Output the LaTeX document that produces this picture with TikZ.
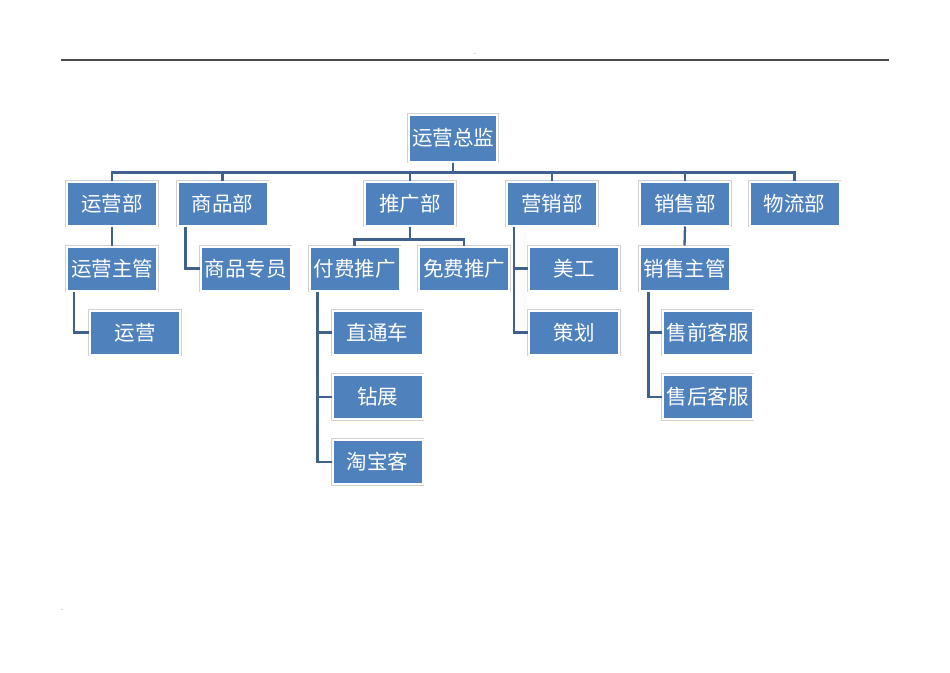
\documentclass[tikz,border=0pt]{standalone}
\usepackage{fontspec}
\newfontfamily\cjk{Noto Sans CJK SC}
\usepackage{xcolor}
\definecolor{boxblue}{RGB}{79,129,189}
\definecolor{linkblue}{RGB}{64,96,142}
\usetikzlibrary{positioning}

\begin{document}
\begin{tikzpicture}
[
    x=1pt,y=-1pt,
    mybox/.style={rectangle,minimum width=90pt,minimum height=44pt,inner sep=0pt,fill=boxblue,draw=white,line width=2pt,
        preaction={draw=black!18,line width=3.6pt},text=white,font=\cjk\fontsize{20.5}{24}\selectfont},
    chief/.style={mybox,minimum width=88pt,minimum height=47pt},
    link/.style={draw=linkblue,line width=2.3pt},
    dot/.style={inner sep=0pt,font=\fontsize{7}{7}\selectfont}
]
\useasboundingbox (0,0) rectangle (950,672);

% Kopfzeile
\draw[gray!60!black,line width=1.2pt] (61,60) -- (889,60);
\node[dot] (dottop) at (475,54) {.};
\node[dot] (dotbottom) at (62,610) {.};

\node (zj) at (453,138) [chief] {运营总监};

\node (yyb) at (112,203.5) [mybox] {运营部};
\node (spb) at (222.5,203.5) [mybox] {商品部};
\node (tgb) at (410,203.5) [mybox] {推广部};
\node (yxb) at (552,203.5) [mybox] {营销部};
\node (xsb) at (685,203.5) [mybox] {销售部};
\node (wlb) at (794.5,203.5) [mybox] {物流部};

\node (yyzg) at (112,268.5) [mybox] {运营主管};
\node (spzy) at (245.5,268.5) [mybox] {商品专员};
\node (fftg) at (354.5,268.5) [mybox] {付费推广};
\node (mftg) at (464,268.5) [mybox] {免费推广};
\node (mg) at (574,268.5) [mybox] {美工};
\node (xszg) at (684.5,268.5) [mybox] {销售主管};

\node (yy) at (135,332.5) [mybox] {运营};
\node (ztc) at (377.5,332.5) [mybox] {直通车};
\node (ch) at (574,332.5) [mybox] {策划};
\node (sqkf) at (707.5,332.5) [mybox] {售前客服};

\node (zz) at (377.5,397) [mybox] {钻展};
\node (shkf) at (707.5,397) [mybox] {售后客服};

\node (tbk) at (377.5,462) [mybox] {淘宝客};

% Verbindungen
\foreach \d in {yyb,spb,tgb,yxb,xsb,wlb}
    \draw[link] (zj.south) -- ++(0,10) -| (\d.north);

\draw[link] (yyb.south) -- (yyzg.north);
\draw[link] (xsb.south) -- (xszg.north);
\draw[link] (tgb.south) -- ++(0,13) -| (fftg.north);
\draw[link] (tgb.south) -- ++(0,13) -| (mftg.north);

\draw[link] ([xshift=8pt]yyzg.south west) |- (yy.west);
\draw[link] ([xshift=9pt]spb.south west) |- (spzy.west);
\foreach \k in {ztc,zz,tbk}
    \draw[link] ([xshift=9pt]fftg.south west) |- (\k.west);
\foreach \k in {mg,ch}
    \draw[link] ([xshift=8pt]yxb.south west) |- (\k.west);
\foreach \k in {sqkf,shkf}
    \draw[link] ([xshift=10pt]xszg.south west) |- (\k.west);

\end{tikzpicture}
\end{document}
